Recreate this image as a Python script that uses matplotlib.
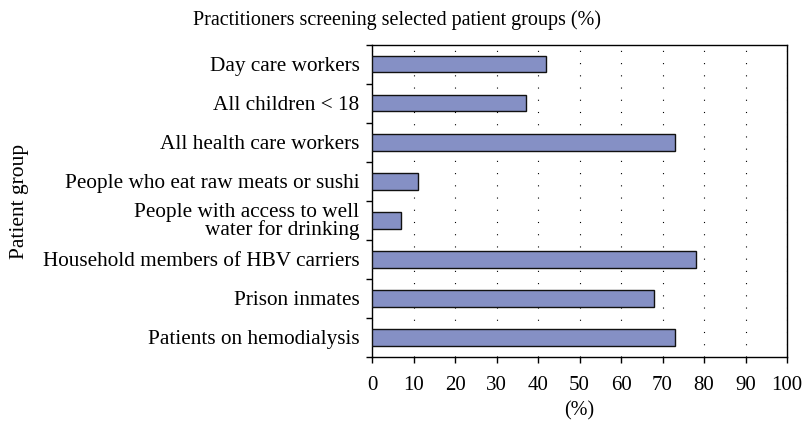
import matplotlib.pyplot as plt
import numpy as np

groups = [
    "Day care workers",
    "All children < 18",
    "All health care workers",
    "People who eat raw meats or sushi",
    "People with access to well\nwater for drinking",
    "Household members of HBV carriers",
    "Prison inmates",
    "Patients on hemodialysis",
]
percent = [42, 37, 73, 11, 7, 78, 68, 73]
x_ticks = list(range(0, 101, 10))

plt.rcParams['font.family'] = ['Liberation Serif', 'DejaVu Serif']

fig = plt.figure(figsize=(8.04, 4.26), dpi=100)
ax = fig.add_axes([0.4627, 0.162, 0.5162, 0.733])

pos = np.arange(len(groups))
ax.barh(pos, percent, height=0.42, color='#8590c5', edgecolor='#111111',
        linewidth=1.0, zorder=3)

ax.set_xlim(0, 100)
ax.set_ylim(len(groups) - 0.5, -0.5)
ax.set_xticks(x_ticks)
ax.set_yticks(pos)
ax.set_yticklabels(groups, fontsize=15.3, linespacing=0.85)
ax.set_yticks(np.arange(-0.5, len(groups), 1.0), minor=True)
ax.tick_params(axis='y', which='major', length=0, pad=9)
ax.tick_params(axis='y', which='minor', length=4, width=1.0, direction='out')
ax.tick_params(axis='x', length=4, width=1.0, direction='out', labelsize=15, pad=10)

ax.xaxis.grid(True, linestyle=(0, (1, 10)), color='black', linewidth=0.8, zorder=0)
ax.set_axisbelow(True)
for s in ax.spines.values():
    s.set_linewidth(1.0)

ax.set_xlabel("(%)", fontsize=14.5, labelpad=4)
fig.text(0.024, 0.527, "Patient group", rotation=90, ha='center', va='center', fontsize=15.5)
fig.text(0.494, 0.953, "Practitioners screening selected patient groups (%)",
         ha='center', va='center', fontsize=14.5)

fig.savefig('out.png', dpi=100)
